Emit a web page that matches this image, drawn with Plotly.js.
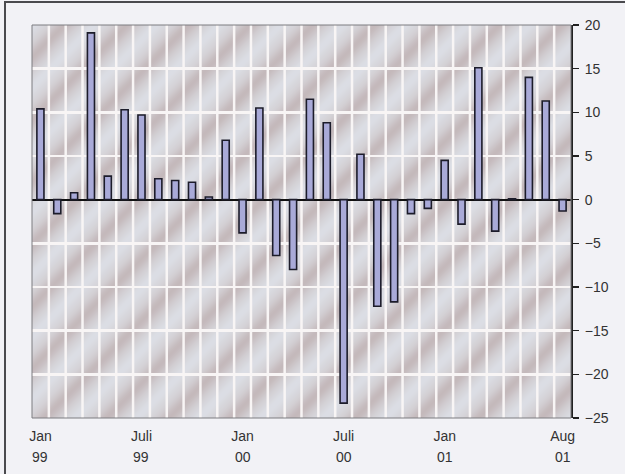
<!DOCTYPE html>
<html>
<head>
<meta charset="utf-8">
<script src="https://cdn.plot.ly/plotly-3.0.1.min.js"></script>
<style>
  html, body { margin: 0; padding: 0; background: #f2f2f6; }
  #wrap { position: relative; width: 625px; height: 474px; }
  #chart { position: absolute; left: 0; top: 0; width: 625px; height: 474px; }
  #frame { position: absolute; left: 4px; top: 1px; width: 640px; height: 480px;
           border-left: 2px solid #4a4a4e; border-top: 2px solid #4a4a4e; pointer-events: none; }
</style>
</head>
<body>
<div id="wrap">
  <div id="chart"></div>
  <div id="frame"></div>
</div>
<script>
// Monthly change, Jan 1999 - Aug 2001
const months = [
  "Jan 99","Feb 99","Mär 99","Apr 99","Mai 99","Juni 99","Juli 99","Aug 99","Sep 99","Okt 99","Nov 99","Dez 99",
  "Jan 00","Feb 00","Mär 00","Apr 00","Mai 00","Juni 00","Juli 00","Aug 00","Sep 00","Okt 00","Nov 00","Dez 00",
  "Jan 01","Feb 01","Mär 01","Apr 01","Mai 01","Juni 01","Juli 01","Aug 01"
];
const values = [
  10.4, -1.6, 0.8, 19.1, 2.7, 10.3, 9.7, 2.4, 2.2, 2.0, 0.3, 6.8,
  -3.8, 10.5, -6.4, -8.0, 11.5, 8.8, -23.3, 5.2, -12.2, -11.7, -1.6, -1.0,
  4.5, -2.8, 15.1, -3.6, 0.1, 14.0, 11.3, -1.3
];
// Labelled months on the x axis (month line + year line)
const tickMonths = ["Jan 99","Juli 99","Jan 00","Juli 00","Jan 01","Aug 01"];
const tickMonthText = ["Jan","Juli","Jan","Juli","Jan","Aug"];
const tickYearText = ["99","99","00","00","01","01"];

// Soft diagonal textured plot background
const texture =
  '<svg xmlns="http://www.w3.org/2000/svg" width="540" height="393">' +
  '<defs>' +
  '<linearGradient id="g" x1="0" y1="0" x2="1" y2="0">' +
  '<stop offset="0" stop-color="#dde0e7"/>' +
  '<stop offset="0.3" stop-color="#d3d0d4"/>' +
  '<stop offset="0.52" stop-color="#c1b4b6"/>' +
  '<stop offset="0.75" stop-color="#d2cfd3"/>' +
  '<stop offset="1" stop-color="#dde0e7"/>' +
  '</linearGradient>' +
  '<pattern id="p" width="44" height="44" patternUnits="userSpaceOnUse" patternTransform="rotate(45)">' +
  '<rect width="44" height="44" fill="url(#g)"/>' +
  '</pattern>' +
  '<filter id="f"><feGaussianBlur stdDeviation="2"/></filter>' +
  '</defs>' +
  '<rect x="-10" y="-10" width="560" height="413" fill="url(#p)" filter="url(#f)"/>' +
  '</svg>';
const textureUrl = 'data:image/svg+xml;charset=utf-8,' + encodeURIComponent(texture);

// White vertical separators between months
const shapes = months.slice(0, -1).map((m, i) => ({
  type: 'line', xref: 'x', yref: 'paper', layer: 'below',
  x0: i + 0.5, x1: i + 0.5, y0: 0, y1: 1,
  line: { color: '#f8f5f5', width: 2.5 }
}));
shapes.push({
  type: 'rect', xref: 'paper', yref: 'paper', layer: 'above',
  x0: 0, x1: 1, y0: 0, y1: 1,
  line: { color: '#7c7c80', width: 1 }
});

const labelFont = { family: 'Liberation Sans, Arial, sans-serif', size: 14, color: '#333' };

const annotations = tickMonths.map((m, i) => ({
  x: m, xref: 'x', y: 0, yref: 'paper', yanchor: 'top',
  yshift: -29, showarrow: false, text: tickYearText[i],
  font: labelFont
}));

const trace = {
  type: 'bar',
  x: months,
  y: values,
  marker: { color: '#a9aad8', line: { color: '#1c1c2a', width: 1.6 } },
  hoverinfo: 'x+y'
};

const layout = {
  width: 625, height: 474,
  margin: { l: 32, r: 54, t: 25, b: 56 },
  paper_bgcolor: '#f2f2f6',
  plot_bgcolor: 'rgba(0,0,0,0)',
  showlegend: false,
  bargap: 0.58,
  font: labelFont,
  xaxis: {
    type: 'category',
    range: [-0.5, months.length - 0.5],
    tickmode: 'array',
    tickvals: tickMonths,
    ticktext: tickMonthText,
    ticks: '',
    showgrid: false,
    zeroline: false,
    showline: false,
    ticklabelstandoff: 8,
    tickfont: labelFont
  },
  yaxis: {
    side: 'right',
    range: [-25, 20],
    dtick: 5,
    tick0: 0,
    ticks: 'outside',
    ticklen: 6,
    tickwidth: 1.5,
    tickcolor: '#222',
    showline: true,
    linecolor: '#222',
    linewidth: 2,
    showgrid: true,
    gridcolor: '#f8f5f5',
    gridwidth: 2.5,
    zeroline: true,
    zerolinecolor: '#111',
    zerolinewidth: 2,
    ticklabelstandoff: 3,
    tickfont: labelFont
  },
  images: [{
    source: textureUrl, xref: 'paper', yref: 'paper',
    x: 0, y: 1, sizex: 1, sizey: 1, sizing: 'stretch',
    xanchor: 'left', yanchor: 'top', layer: 'below'
  }],
  shapes: shapes,
  annotations: annotations
};

Plotly.newPlot('chart', [trace], layout, { displayModeBar: false, staticPlot: true });
</script>
</body>
</html>
